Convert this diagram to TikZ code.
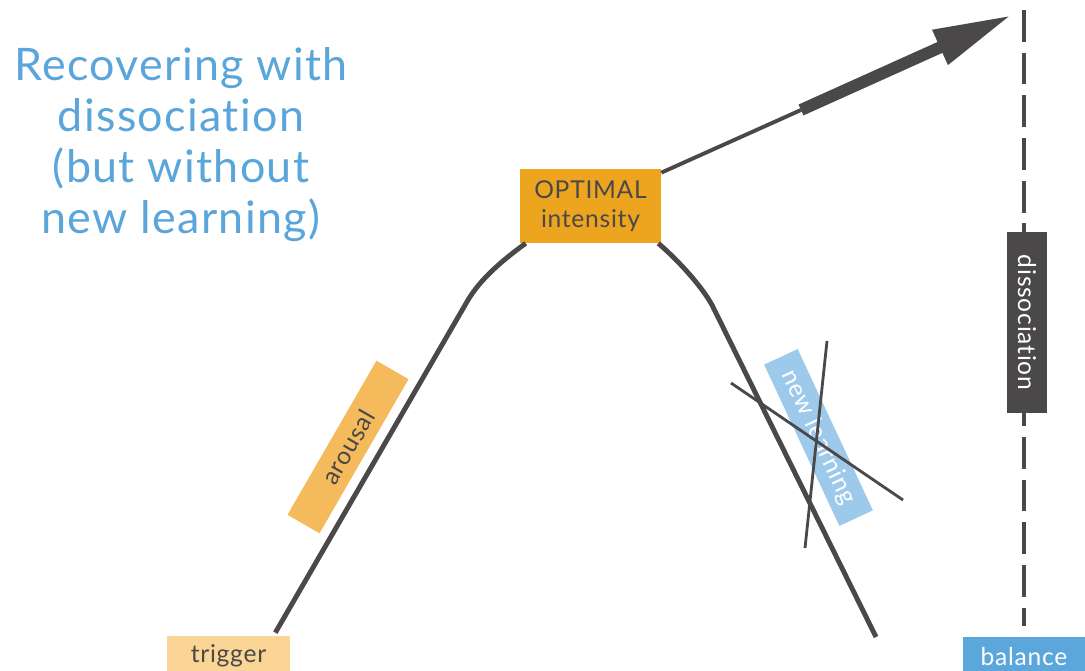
\documentclass[tikz,border=0pt]{standalone}
\usepackage{fontspec}
\setmainfont{Lato}[LetterSpace=3, Ligatures=NoCommon]
\usetikzlibrary{calc,arrows.meta}

\definecolor{titleblue}{HTML}{5AA5DA}
\definecolor{linegray}{HTML}{4A4848}
\definecolor{optorange}{HTML}{EDA41E}
\definecolor{arousalorange}{HTML}{F5BA5C}
\definecolor{triggerorange}{HTML}{FBD595}
\definecolor{learnblue}{HTML}{9DC9EA}
\definecolor{balanceblue}{HTML}{5BA7DB}

\tikzset{
  label box/.style={inner sep=0pt, font=\fontsize{14}{16.5}\selectfont},
  slant box/.style={label box, minimum width=3.56cm, minimum height=0.74cm},
  curve/.style={draw=linegray, line width=2.8pt},
  strike/.style={draw=linegray, line width=1.6pt}
}

\begin{document}
\begin{tikzpicture}[x=0.02cm,y=-0.02cm]
            \useasboundingbox (0,0) rectangle (1085,671);
            \node[anchor=north, align=center, inner sep=0pt, text=titleblue,
                  font=\fontsize{25.5}{29}\selectfont] (title) at (181,47)
                  {Recovering with\\dissociation\\(but without\\new learning)};
            \coordinate (top) at (1024,10);
            \coordinate (tip) at (1012,15);
            \coordinate (bend) at (801,110);
            \coordinate (end) at (876,637);
            \node[label box, fill=balanceblue, text=white, minimum width=2.44cm, minimum height=0.8cm] (bal) at (1024,657) {balance};
            \draw[linegray, line width=2.8pt, dash pattern=on 18.1pt off 6.2pt] (top) -- ($(bal.north)+(0,-11)$);
            \node[label box, fill=linegray, text=white, rotate=-90, minimum width=3.62cm, minimum height=0.8cm] (dis) at (1027,322.5) {dissociation};
            \node[label box, fill=optorange, text=linegray, align=center, minimum width=2.82cm, minimum height=1.48cm] (opt) at (590.5,206) {OPTIMAL\\intensity};
            \node[label box, fill=triggerorange, text=linegray, minimum width=2.46cm, minimum height=0.8cm] (trig) at (228.5,656) {trigger};
            \node[slant box, fill=arousalorange, text=linegray, rotate=60] (arousal) at (348,447) {arousal};
            \node[slant box, fill=learnblue, text=white, rotate=-65] (learn) at (818.5,437.5) {new learning};
            \draw[curve] ($(trig.north east)+(-15,-3)$) -- (468,300) .. controls (480,280) and (500,262) .. ($(opt.south west)+(6,0)$);
            \draw[curve] ($(opt.south east)+(-3,0)$) .. controls (680,262) and (702,287) .. (712,305) -- (end);
            \draw[strike] (731,383) -- (903,500);
            \draw[strike] (827,341) -- (805,548);
            \draw[linegray, line width=2.2pt] ($(opt.north east)+(0,4)$) -- (bend);
            \draw[linegray, line width=6.8pt, -{Triangle[length=1.58cm, width=0.7cm]}] (bend) -- (tip);
        \end{tikzpicture}
\end{document}
